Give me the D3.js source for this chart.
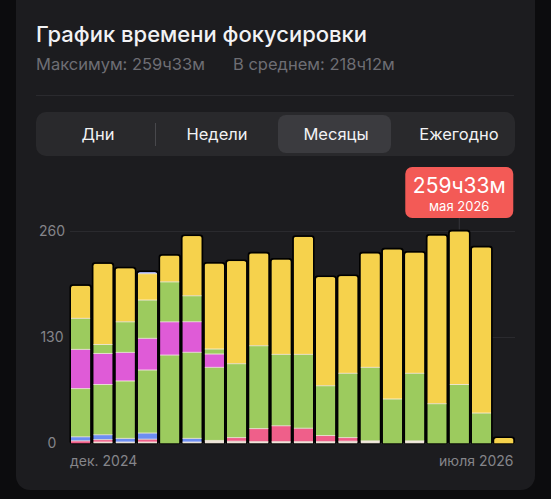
<!DOCTYPE html>
<html>
<head>
<meta charset="utf-8">
<script src="https://cdn.jsdelivr.net/npm/d3@7"></script>
<style>
  html, body { margin: 0; padding: 0; background: #0c0c0e; }
  svg { display: block; font-family: Inter, "Noto Sans", sans-serif; }
</style>
</head>
<body>
<svg id="chart" width="551" height="499"></svg>
<script>
// months, Dec 2024 .. Jul 2026
const months = ['2024-12', '2025-01', '2025-02', '2025-03', '2025-04', '2025-05', '2025-06', '2025-07',
	'2025-08', '2025-09', '2025-10', '2025-11', '2025-12', '2026-01', '2026-02', '2026-03',
	'2026-04', '2026-05', '2026-06', '2026-07'];
const xTickLabels = ['дек. 2024', 'июля 2026'];
const yTicks = [0, 130, 260];

// hours per category, bottom to top
const lightVals   = [0, 1.5, 1.5, 1.5, 0, 1.5, 3.5, 2.5, 2, 2, 2, 2, 2.5, 3, 0, 3, 0, 0, 0, 0];
const pinkVals    = [3, 3, 0, 3.5, 0, 0, 0, 4.5, 16, 19.5, 16.4, 7.5, 4.5, 0, 0, 0, 0, 0, 0, 0];
const blueVals    = [5, 6, 4.5, 7.5, 0, 4.5, 0, 0, 0, 0, 0, 0, 0, 0, 0, 0, 0, 0, 0, 0];
const greenVals   = [59, 61.5, 70.3, 77.2, 108, 105.4, 89.5, 90.5, 101.5, 87.4, 90.5, 61, 78.7, 90, 54.2, 82.7, 48.5, 72, 37, 0];
const magentaVals = [48, 38, 35, 38.8, 40.8, 37.5, 16.3, 0, 0, 0, 0, 0, 0, 0, 0, 0, 0, 0, 0, 0];
const green2Vals  = [38, 11, 37.5, 46.9, 48.9, 31.8, 6.1, 0, 0, 0, 0, 0, 0, 0, 0, 0, 0, 0, 0, 0];
const yellowVals  = [40, 99, 65.7, 32.3, 32.3, 73.1, 104.9, 125.7, 113.1, 116.3, 144, 133.1, 119.1, 139.6, 183.3, 148.1, 206.1, 187.55, 203, 6.5];
const lavenderVals = [0, 0, 0, 2, 0, 0, 0, 0, 0, 0, 0, 0, 0, 0, 0, 0, 0, 0, 0, 0];

const seriesKeys = ['light', 'pink', 'blue', 'green', 'magenta', 'green2', 'yellow', 'lavender'];
const seriesColors = {
	light: '#ece3d8', pink: '#ef5f8a', blue: '#6d8ef2', green: '#9ccb5e',
	magenta: '#df5bd7', green2: '#9ccb5e', yellow: '#f6d24c', lavender: '#aab4f2'
};

const selectedIndex = 17;
const tooltipValue = '259ч33м';
const tooltipDate = 'мая 2026';

const rows = months.map((m, i) => ({
	month: m,
	light: lightVals[i], pink: pinkVals[i], blue: blueVals[i], green: greenVals[i],
	magenta: magentaVals[i], green2: green2Vals[i], yellow: yellowVals[i], lavender: lavenderVals[i]
}));

const svg = d3.select('#chart');

// card
svg.append('rect')
	.attr('x', 16).attr('y', -14)
	.attr('width', 519).attr('height', 504)
	.attr('rx', 14)
	.attr('fill', '#1c1c1f');

// header
svg.append('text')
	.attr('x', 36).attr('y', 42)
	.attr('fill', '#f2f2f4')
	.attr('font-size', 22)
	.attr('font-weight', 500)
	.text('График времени фокусировки');

svg.append('text')
	.attr('x', 36).attr('y', 69.5)
	.attr('fill', '#6e6e74')
	.attr('font-size', 16.5)
	.text('Максимум: 259ч33м');

svg.append('text')
	.attr('x', 233).attr('y', 69.5)
	.attr('fill', '#6e6e74')
	.attr('font-size', 16.5)
	.text('В среднем: 218ч12м');

svg.append('line')
	.attr('x1', 36).attr('x2', 514)
	.attr('y1', 95.5).attr('y2', 95.5)
	.attr('stroke', '#2a2a2e');

// segmented control
const seg = svg.append('g');
seg.append('rect')
	.attr('x', 36).attr('y', 112)
	.attr('width', 479).attr('height', 44)
	.attr('rx', 10)
	.attr('fill', '#29292c');
seg.append('rect')
	.attr('x', 278).attr('y', 115)
	.attr('width', 113).attr('height', 38)
	.attr('rx', 8)
	.attr('fill', '#3b3b3f');
seg.append('line')
	.attr('x1', 155.5).attr('x2', 155.5)
	.attr('y1', 123).attr('y2', 146)
	.attr('stroke', '#48484c');
const segLabels = ['Дни', 'Недели', 'Месяцы', 'Ежегодно'];
const segCenters = [98, 217, 336, 459];
seg.selectAll('text.seg')
	.data(segLabels)
	.join('text')
	.attr('class', 'seg')
	.attr('x', (d, i) => segCenters[i])
	.attr('y', 140)
	.attr('text-anchor', 'middle')
	.attr('fill', '#f2f2f4')
	.attr('font-size', 16.5)
	.attr('font-weight', 400)
	.text(d => d);

// scales
const x = d3.scaleBand()
	.domain(months)
	.range([71, 513.5])
	.paddingInner(0.13)
	.paddingOuter(0);

const y = d3.scaleLinear()
	.domain([0, 260])
	.range([443.3, 231]);

// grid
svg.append('g')
	.selectAll('line')
	.data(yTicks)
	.join('line')
	.attr('x1', 70).attr('x2', 515)
	.attr('y1', d => Math.round(y(d)) + 0.5)
	.attr('y2', d => Math.round(y(d)) + 0.5)
	.attr('stroke', '#2a2a2e');

// y labels
svg.append('g')
	.selectAll('text')
	.data(yTicks)
	.join('text')
	.attr('x', 52)
	.attr('y', d => y(d) + 5)
	.attr('text-anchor', 'middle')
	.attr('fill', '#85858a')
	.attr('font-size', 14)
	.text(d => d);

// bars
const stacked = d3.stack().keys(seriesKeys)(rows);
const totals = rows.map(r => d3.sum(seriesKeys, k => r[k]));
const bw = x.bandwidth();

const barG = svg.append('g');

// black outline behind each bar
barG.selectAll('rect.outline')
	.data(rows)
	.join('rect')
	.attr('class', 'outline')
	.attr('x', d => x(d.month) - 1.5)
	.attr('width', bw + 3)
	.attr('y', (d, i) => y(totals[i]) - 1.5)
	.attr('height', (d, i) => y(0) - y(totals[i]) + 2.5)
	.attr('rx', 3)
	.attr('fill', '#000');

const defs = svg.append('defs');
defs.selectAll('clipPath')
	.data(rows)
	.join('clipPath')
	.attr('id', (d, i) => 'clip' + i)
	.append('rect')
	.attr('x', d => x(d.month))
	.attr('width', bw)
	.attr('y', (d, i) => y(totals[i]))
	.attr('height', (d, i) => y(0) - y(totals[i]) + 4)
	.attr('rx', 2.5);

const stacks = barG.selectAll('g.stack')
	.data(rows)
	.join('g')
	.attr('class', 'stack')
	.attr('clip-path', (d, i) => 'url(#clip' + i + ')');

stacks.each(function (row, i) {
	const g = d3.select(this);
	const segs = stacked
		.map(s => ({ key: s.key, y0: s[i][0], y1: s[i][1] }))
		.filter(s => s.y1 - s.y0 > 0);
	g.selectAll('rect')
		.data(segs)
		.join('rect')
		.attr('x', x(row.month))
		.attr('width', bw)
		.attr('y', s => y(s.y1))
		.attr('height', s => y(s.y0) - y(s.y1))
		.attr('fill', s => seriesColors[s.key]);
	// thin light separators between segments
	g.selectAll('line')
		.data(segs.slice(1))
		.join('line')
		.attr('x1', x(row.month)).attr('x2', x(row.month) + bw)
		.attr('y1', s => y(s.y0))
		.attr('y2', s => y(s.y0))
		.attr('stroke', 'rgba(255,248,235,0.8)')
		.attr('stroke-width', 1);
});

// x labels
svg.append('text')
	.attr('x', x(months[0]) - 1)
	.attr('y', 466)
	.attr('fill', '#85858a')
	.attr('font-size', 14)
	.text(xTickLabels[0]);

svg.append('text')
	.attr('x', x(months[months.length - 1]) + bw)
	.attr('y', 466)
	.attr('text-anchor', 'end')
	.attr('fill', '#85858a')
	.attr('font-size', 14)
	.text(xTickLabels[1]);

// tooltip
const cx = x(months[selectedIndex]) + bw / 2;
svg.append('line')
	.attr('x1', cx).attr('x2', cx)
	.attr('y1', 218).attr('y2', y(totals[selectedIndex]) - 2)
	.attr('stroke', '#34343a');

const tip = svg.append('g');
tip.append('rect')
	.attr('x', cx - 54).attr('y', 167)
	.attr('width', 108).attr('height', 51)
	.attr('rx', 7)
	.attr('fill', '#f35a56');
tip.append('text')
	.attr('x', cx).attr('y', 193)
	.attr('text-anchor', 'middle')
	.attr('fill', '#fff')
	.attr('font-size', 21)
	.text(tooltipValue);
tip.append('text')
	.attr('x', cx).attr('y', 211)
	.attr('text-anchor', 'middle')
	.attr('fill', '#fff')
	.attr('font-size', 13)
	.text(tooltipDate);
</script>
</body>
</html>
